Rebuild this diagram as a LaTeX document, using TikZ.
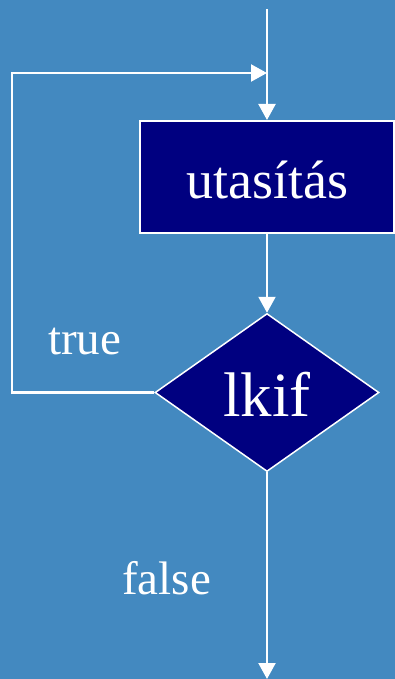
\documentclass[tikz,border=0pt]{standalone}
\usepackage{fontspec}
\setmainfont{Liberation Serif}
\usetikzlibrary{arrows.meta,shapes.geometric}
\definecolor{bgblue}{RGB}{67,137,192}
\definecolor{boxnavy}{RGB}{0,0,128}
\tikzset{
  flow/.style={draw=white, line width=2.2pt, -{Triangle[length=16pt,width=17pt]}},
  stmt/.style={rectangle, draw=white, line width=2pt, fill=boxnavy, text=white,
    minimum width=254pt, minimum height=112pt, inner sep=0pt,
    text height=42pt, text depth=0pt,
    font=\fontsize{54}{60}\selectfont},
  cond/.style={diamond, draw=white, line width=1.5pt, fill=boxnavy, text=white,
    minimum width=224pt, minimum height=158pt, inner sep=0pt,
    text height=48pt, text depth=0pt,
    font=\fontsize{63}{70}\selectfont},
  lbl/.style={text=white, inner sep=0pt, anchor=base west, font=\fontsize{47}{52}\selectfont}
}
\begin{document}
\begin{tikzpicture}[x=1pt, y=-1pt]
  \fill[bgblue] (0,0) rectangle (395,679);
  \useasboundingbox (0,0) rectangle (395,679);

  \node[stmt] (box) at (267,177) {utasítás};
  \node[cond] (d) at (267,392.5) {lkif};

  \coordinate (start) at (267,9);
  \coordinate (join) at (267,73);
  \coordinate (loopL) at (12,73);
  \coordinate (exit) at (267,679);

  % entry and loop back
  \draw[flow] (start) -- (box.north);
  \draw[flow] (d.west) -| (loopL) -- (join);
  % body to condition, condition to exit
  \draw[flow] (box.south) -- (d.north);
  \draw[flow] (d.south) -- (exit);

  \node[lbl] (t) at (48,354) {true};
  \node[lbl] (f) at (122,594) {false};
\end{tikzpicture}
\end{document}
